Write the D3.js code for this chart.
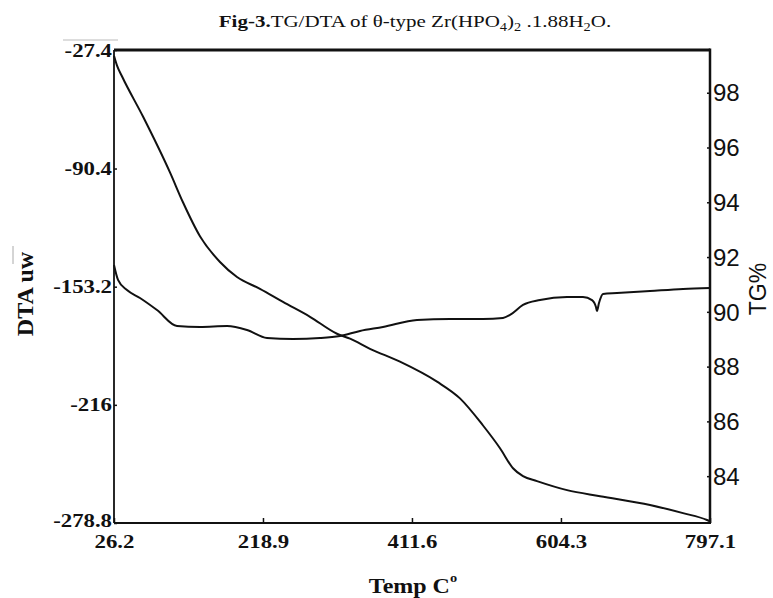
<!DOCTYPE html>
<html><head><meta charset="utf-8">
<script src="https://cdn.jsdelivr.net/npm/d3@7"></script>
<style>body{margin:0;background:#fff}</style>
</head><body>
<svg id="c" width="773" height="598" xmlns="http://www.w3.org/2000/svg"></svg>
<script>
const xTicks = [26.2, 218.9, 411.6, 604.3, 797.1];
const dtaTicks = [-27.4, -90.4, -153.2, -216, -278.8];
const tgTicks = [84, 86, 88, 90, 92, 94, 96, 98];

const tgTemp  = [26.2, 30, 36.5, 63.7, 98.6, 115.4, 137.4, 163.3, 185.3, 215.0, 244.8, 279.7, 314.6, 331.5, 357.3, 396.1, 444.0, 473.7, 503.5, 525.5, 542.3, 555.2, 573.3, 612.2, 654.9, 719.5, 762.2, 793.2, 797.1];
const tgValue = [99.35, 99.0, 98.6, 97.13, 95.09, 94.0, 92.76, 91.82, 91.27, 90.84, 90.36, 89.82, 89.2, 89.02, 88.65, 88.18, 87.45, 86.84, 85.85, 85.02, 84.29, 84.0, 83.82, 83.49, 83.27, 82.95, 82.65, 82.4, 82.35];

const dtaTemp  = [26.2, 31.4, 43.0, 59.8, 81.8, 107.7, 137.4, 172.4, 198.2, 224.1, 257.7, 292.7, 318.5, 344.4, 374.1, 418.1, 460.8, 503.5, 529.3, 538.4, 555.2, 577.2, 612.2, 632.8, 644.5, 649.6, 650.9, 653.5, 658.7, 676.8, 719.5, 762.2, 797.1];
const dtaValue = [-141.7, -149.6, -155.0, -159.2, -165.6, -174.1, -174.6, -174.1, -176.2, -180.5, -181.0, -180.5, -179.4, -176.7, -174.6, -170.9, -170.4, -170.4, -169.8, -168.2, -162.9, -160.3, -158.7, -158.7, -160.3, -164.0, -166.1, -161.9, -157.1, -156.6, -155.5, -154.4, -153.9];

const svg = d3.select("#c");
const L = 114, R = 710, T = 50, B = 523;
const x = d3.scaleLinear().domain([26.2, 797.1]).range([L, R]);
const yD = d3.scaleLinear().domain([-278.8, -27.4]).range([B, T]);
const yT = d3.scaleLinear().domain([82.29, 99.56]).range([B, T]);

const serif = "'Liberation Serif','Times New Roman',serif";
const sans = "'Liberation Sans',Arial,sans-serif";
const SX = 1.2; // horizontal stretch of the serif lettering in the scan

// faint scan artefact lines
svg.append("line").attr("x1", 63).attr("x2", 118).attr("y1", 40).attr("y2", 40)
  .attr("stroke", "#bbb").attr("stroke-width", 1);
svg.append("line").attr("x1", 13).attr("x2", 13).attr("y1", 246).attr("y2", 264)
  .attr("stroke", "#aaa").attr("stroke-width", 1);

// axes
const gx = svg.append("g").attr("transform", `translate(0,${B})`)
  .call(d3.axisBottom(x).tickValues(xTicks).tickSize(-5).tickPadding(12).tickFormat(d => String(d)));
const gl = svg.append("g").attr("transform", `translate(${L},0)`)
  .call(d3.axisLeft(yD).tickValues(dtaTicks).tickSize(-3).tickPadding(3).tickFormat(d => String(d)));
const gr = svg.append("g").attr("transform", `translate(${R},0)`)
  .call(d3.axisRight(yT).tickValues(tgTicks).tickSize(-3).tickPadding(3).tickFormat(d => String(d)));
[gx, gl, gr].forEach(g => { g.select(".domain").remove(); g.selectAll(".tick line").attr("stroke", "#111").attr("stroke-width", 1.5); });

gx.selectAll("text").attr("font-family", serif).attr("font-weight", "bold").attr("font-size", 19)
  .attr("fill", "#111").attr("transform", `scale(${SX},1)`);
gl.selectAll("text").attr("font-family", serif).attr("font-weight", "bold").attr("font-size", 19)
  .attr("fill", "#111").attr("x", -2 / SX).attr("transform", `scale(${SX},1)`)
  .attr("dy", d => d === -278.8 ? "0.16em" : "0.32em");
gr.selectAll("text").attr("font-family", sans).attr("font-size", 24).attr("fill", "#111").attr("dy", "0.34em");

// frame
svg.append("line").attr("x1", L).attr("x2", R).attr("y1", T).attr("y2", T).attr("stroke", "#111").attr("stroke-width", 3);
svg.append("line").attr("x1", R).attr("x2", R).attr("y1", T - 1.5).attr("y2", B).attr("stroke", "#111").attr("stroke-width", 2.5);
svg.append("line").attr("x1", L).attr("x2", L).attr("y1", T).attr("y2", B).attr("stroke", "#111").attr("stroke-width", 1.8);
svg.append("line").attr("x1", L).attr("x2", R + 1).attr("y1", B).attr("y2", B).attr("stroke", "#111").attr("stroke-width", 2.2);

// curves
const lineTG = d3.line().x((d, i) => x(tgTemp[i])).y(d => yT(d)).curve(d3.curveMonotoneX);
const lineDTA = d3.line().x((d, i) => x(dtaTemp[i])).y(d => yD(d)).curve(d3.curveMonotoneX);
svg.append("path").attr("d", lineTG(tgValue)).attr("fill", "none").attr("stroke", "#111").attr("stroke-width", 2);
svg.append("path").attr("d", lineDTA(dtaValue)).attr("fill", "none").attr("stroke", "#111").attr("stroke-width", 2);

// title
const title = svg.append("text").attr("transform", `translate(415,27) scale(${SX},1)`).attr("text-anchor", "middle")
  .attr("font-family", serif).attr("font-size", 17.5).attr("fill", "#111");
title.append("tspan").attr("font-weight", "bold").text("Fig-3.");
title.append("tspan").text("TG/DTA of  θ-type Zr(HPO");
title.append("tspan").attr("font-size", 12).attr("dy", 4).text("4");
title.append("tspan").attr("dy", -4).text(")");
title.append("tspan").attr("font-size", 12).attr("dy", 4).text("2");
title.append("tspan").attr("dy", -4).text(" .1.88H");
title.append("tspan").attr("font-size", 12).attr("dy", 4).text("2");
title.append("tspan").attr("dy", -4).text("O.");

// axis titles
const xt = svg.append("text").attr("transform", `translate(413,593) scale(${SX},1)`).attr("text-anchor", "middle")
  .attr("font-family", serif).attr("font-weight", "bold").attr("font-size", 20).attr("fill", "#111");
xt.append("tspan").text("Temp C");
xt.append("tspan").attr("font-size", 12).attr("dy", -11).text("o");

svg.append("text").attr("transform", "translate(33,294) rotate(-90)").attr("text-anchor", "middle")
  .attr("font-family", serif).attr("font-weight", "bold").attr("font-size", 24).attr("fill", "#111").text("DTA uw");

svg.append("text").attr("transform", "translate(766,289) rotate(-90)").attr("text-anchor", "middle")
  .attr("font-family", sans).attr("font-size", 23).attr("fill", "#111").text("TG%");
</script>
</body></html>
